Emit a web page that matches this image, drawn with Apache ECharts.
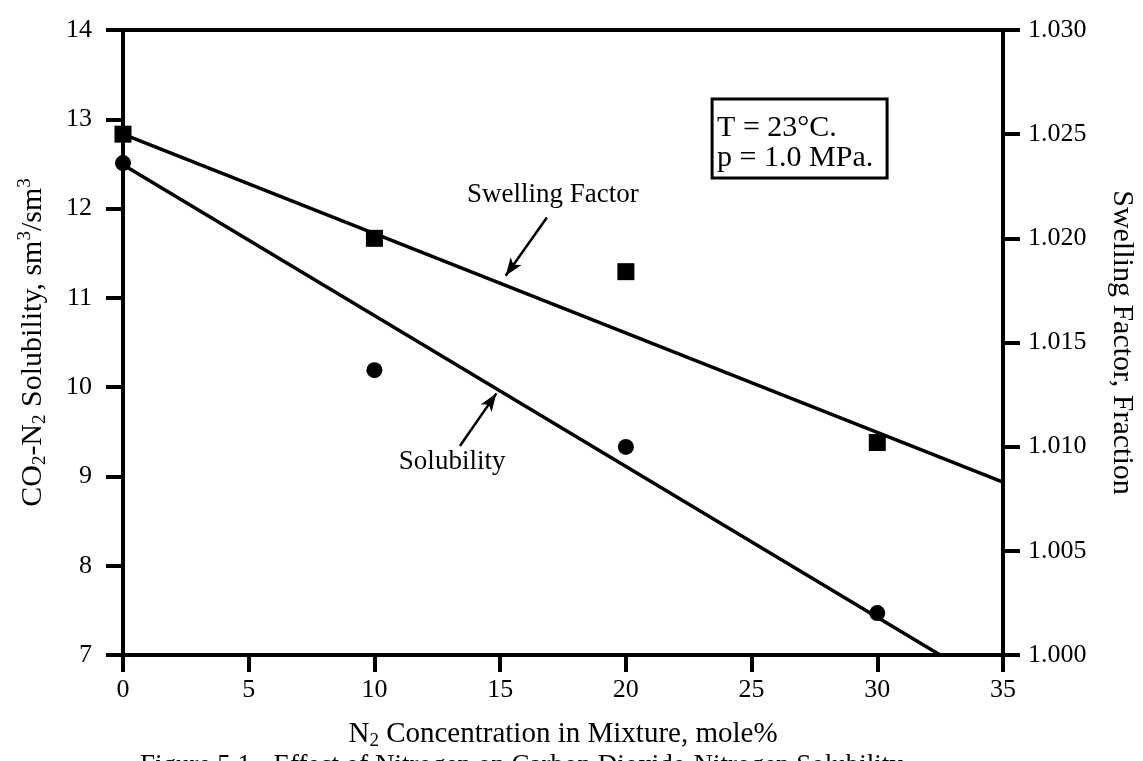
<!DOCTYPE html>
<html>
<head>
<meta charset="utf-8">
<script src="https://cdn.jsdelivr.net/npm/echarts@6/dist/echarts.min.js"></script>
<style>
html,body{margin:0;padding:0;background:#fff;}
#chart{width:1143px;height:761px;}
</style>
</head>
<body>
<div id="chart"></div>
<script>
// ---- data ----
const nitrogenConc = [0, 10, 20, 30];                       // mole%
const solubility   = [12.51, 10.19, 9.33, 7.47];            // sm3/sm3 (left axis)
const swelling     = [1.0250, 1.0200, 1.0184, 1.0102];      // fraction (right axis)
const solubilityFitX = [0, 32.5];
const solubilityFitY = [12.49, 7.0];
const swellingFitX   = [0, 35];
const swellingFitY   = [1.0250, 1.0083];
const xTicks  = { min: 0, max: 35, step: 5 };
const yLeft   = { min: 7, max: 14, step: 1 };
const yRight  = { min: 1.000, max: 1.030, step: 0.005 };

const FONT = '"Liberation Serif", "DejaVu Serif", serif';
const BLACK = '#000';

const chart = echarts.init(document.getElementById('chart'), null, {renderer: 'canvas'});

const richSub = {
  sub: {fontSize: 19, lineHeight: 19, verticalAlign: 'bottom', fontFamily: FONT, color: BLACK},
  sup: {fontSize: 19, lineHeight: 19, verticalAlign: 'top', fontFamily: FONT, color: BLACK}
};

function axisCommon() {
  return {
    axisLine: {show: true, lineStyle: {color: BLACK, width: 4}},
    axisTick: {show: true, inside: false, length: 17, lineStyle: {color: BLACK, width: 4}},
    splitLine: {show: false},
    axisLabel: {color: BLACK, fontFamily: FONT, fontSize: 26}
  };
}

const option = {
  animation: false,
  backgroundColor: '#fff',
  grid: {left: 123, right: 140, top: 30, bottom: 106, containLabel: false, outerBoundsMode: 'none',
         show: true, borderColor: BLACK, borderWidth: 4, backgroundColor: 'transparent'},
  xAxis: Object.assign(axisCommon(), {
    type: 'value', min: xTicks.min, max: xTicks.max, interval: xTicks.step,
    axisLabel: {color: BLACK, fontFamily: FONT, fontSize: 26, margin: 22},
    name: 'N{sub|2} Concentration in Mixture, mole%',
    nameLocation: 'middle', nameGap: 62,
    nameTextStyle: {color: BLACK, fontFamily: FONT, fontSize: 29, lineHeight: 34, rich: richSub}
  }),
  yAxis: [
    Object.assign(axisCommon(), {
      type: 'value', position: 'left', min: yLeft.min, max: yLeft.max, interval: yLeft.step,
      axisLabel: {color: BLACK, fontFamily: FONT, fontSize: 26, margin: 31},
      name: 'CO{sub|2}-N{sub|2} Solubility, sm{sup|3}/sm{sup|3}',
      nameLocation: 'middle', nameGap: 73, nameRotate: 90,
      nameTextStyle: {color: BLACK, fontFamily: FONT, fontSize: 30, lineHeight: 34, rich: richSub}
    }),
    Object.assign(axisCommon(), {
      type: 'value', position: 'right', min: yRight.min, max: yRight.max, interval: yRight.step,
      name: 'Swelling Factor, Fraction',
      nameLocation: 'middle', nameGap: 104, nameRotate: -90,
      nameTextStyle: {color: BLACK, fontFamily: FONT, fontSize: 30},
      axisLabel: {color: BLACK, fontFamily: FONT, fontSize: 26, margin: 25, formatter: v => v.toFixed(3)}
    })
  ],
  series: [
    {
      name: 'Solubility fit', type: 'line', yAxisIndex: 0, symbol: 'none', silent: true,
      lineStyle: {color: BLACK, width: 3.5, opacity: 1},
      data: solubilityFitX.map((x, i) => [x, solubilityFitY[i]]),
      markLine: {
        silent: true, symbol: ['none', 'arrow'], symbolSize: [10, 18],
        lineStyle: {color: BLACK, width: 2.5, type: 'solid', opacity: 1}, label: {show: false},
        data: [[{coord: [13.40, 9.34]}, {coord: [14.85, 9.93]}]]
      }
    },
    {
      name: 'Swelling fit', type: 'line', yAxisIndex: 1, symbol: 'none', silent: true,
      lineStyle: {color: BLACK, width: 3.5, opacity: 1},
      data: swellingFitX.map((x, i) => [x, swellingFitY[i]]),
      markLine: {
        silent: true, symbol: ['none', 'arrow'], symbolSize: [10, 18],
        lineStyle: {color: BLACK, width: 2.5, type: 'solid', opacity: 1}, label: {show: false},
        data: [[{coord: [16.86, 1.0210]}, {coord: [15.22, 1.0182]}]]
      }
    },
    {
      name: 'Solubility', type: 'scatter', yAxisIndex: 0, symbol: 'circle', symbolSize: 16, clip: false,
      itemStyle: {color: BLACK, opacity: 1},
      data: nitrogenConc.map((x, i) => [x, solubility[i]])
    },
    {
      name: 'Swelling Factor', type: 'scatter', yAxisIndex: 1, symbol: 'rect', symbolSize: 17, clip: false,
      itemStyle: {color: BLACK, opacity: 1},
      data: nitrogenConc.map((x, i) => [x, swelling[i]])
    }
  ]
};
chart.setOption(option);

// annotation anchors in data units (x, left-axis y)
const swellLabelAt = [13.68, 12.15];
const solLabelAt   = [13.09, 9.16];
const boxCorners   = [[23.43, 13.227], [30.39, 12.342]];

function px(pt) { return chart.convertToPixel({xAxisIndex: 0, yAxisIndex: 0}, pt); }
const sw = px(swellLabelAt), so = px(solLabelAt);
const b0 = px(boxCorners[0]), b1 = px(boxCorners[1]);

chart.setOption({
  graphic: [
    {type: 'text', x: sw[0], y: sw[1], style: {text: 'Swelling Factor', font: '27px ' + FONT, fill: BLACK, verticalAlign: 'middle'}},
    {type: 'text', x: so[0], y: so[1], style: {text: 'Solubility', font: '27px ' + FONT, fill: BLACK, align: 'center', verticalAlign: 'middle'}},
    {type: 'rect', shape: {x: b0[0], y: b0[1], width: b1[0] - b0[0], height: b1[1] - b0[1]}, style: {fill: '#fff', stroke: BLACK, lineWidth: 3}},
    {type: 'text', x: b0[0] + 5, y: b0[1] + 29, style: {text: 'T = 23°C.', font: '30px ' + FONT, fill: BLACK, verticalAlign: 'middle'}},
    {type: 'text', x: b0[0] + 5, y: b0[1] + 59, style: {text: 'p = 1.0 MPa.', font: '30px ' + FONT, fill: BLACK, verticalAlign: 'middle'}},
    {type: 'text', x: 140, y: 752, style: {text: 'Figure 5.1 - Effect of Nitrogen on Carbon Dioxide-Nitrogen Solubility', font: '27px ' + FONT, fill: BLACK, verticalAlign: 'top'}}
  ]
});
</script>
</body>
</html>
